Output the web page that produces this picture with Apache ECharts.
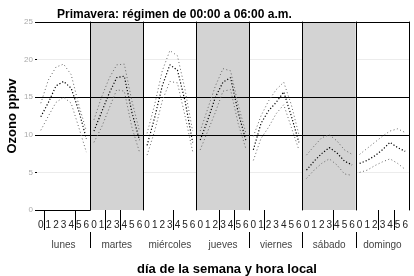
<!DOCTYPE html>
<html>
<head>
<meta charset="utf-8">
<script src="https://cdn.jsdelivr.net/npm/echarts@6/dist/echarts.min.js"></script>
<style>
  html, body { margin: 0; padding: 0; background: #fff; }
  #chart { width: 414px; height: 276px; }
</style>
</head>
<body>
<div id="chart"></div>
<script>
// horas 00..06 y días de la semana
const horas = [0, 1, 2, 3, 4, 5, 6];
const dias = ['lunes', 'martes', 'miércoles', 'jueves', 'viernes', 'sábado', 'domingo'];

// ozono medio (ppbv) por día y hora
const media = [
  [12.4, 14.3, 16.5, 17.1, 16.2, 13.2, 9.5],
  [10.5, 13.0, 15.5, 17.6, 17.8, 13.0, 9.3],
  [8.6, 12.3, 16.5, 19.3, 18.6, 14.5, 9.0],
  [9.3, 12.0, 15.0, 17.0, 17.6, 13.0, 9.3],
  [8.0, 11.5, 13.2, 14.3, 15.7, 12.5, 9.0],
  [5.3, 6.5, 7.5, 8.3, 7.6, 6.5, 6.0],
  [6.2, 6.6, 7.2, 8.0, 9.0, 8.3, 7.8]
];
// límite superior
const superior = [
  [14.2, 17.3, 19.0, 19.4, 18.0, 14.0, 10.5],
  [12.0, 15.0, 17.5, 19.3, 19.4, 14.5, 10.5],
  [10.2, 14.0, 18.5, 21.2, 20.5, 16.0, 10.5],
  [10.5, 13.5, 16.5, 18.8, 18.5, 14.0, 10.3],
  [9.8, 12.5, 14.5, 16.0, 17.0, 14.0, 10.0],
  [7.3, 8.5, 9.6, 10.0, 9.2, 8.0, 7.4],
  [7.4, 8.2, 9.0, 9.8, 10.5, 10.8, 10.3]
];
// límite inferior
const inferior = [
  [10.6, 12.5, 14.3, 15.0, 14.2, 11.0, 7.7],
  [9.0, 11.0, 13.5, 16.0, 15.8, 11.0, 7.7],
  [7.3, 10.5, 14.5, 17.1, 16.9, 12.5, 7.8],
  [8.0, 10.5, 13.0, 15.8, 16.0, 11.5, 8.2],
  [6.6, 9.5, 11.0, 12.8, 14.0, 11.0, 8.0],
  [4.2, 5.3, 6.2, 6.8, 6.0, 4.8, 4.6],
  [5.0, 5.3, 5.9, 6.4, 6.8, 6.2, 5.4]
];

// marcas separadoras bajo las horas (entre etiquetas) y bajo los días
const cortesHora = [[0.5, 4.5], [1.5, 3.5], [3.5], [2.5, 4.5], [1.5], [3.5], [2.5, 4.5]];
const separaDia = [true, false, false, true, true, true, false];

const chart = echarts.init(document.getElementById('chart'));

const panelLeft = 37;
const panelW = 53.14;
const grids = [], xAxes = [], yAxes = [], series = [];

dias.forEach((dia, i) => {
  const gris = i % 2 === 1;
  const tenue = gris ? 'rgba(0,0,0,0)' : '#ececec';
  grids.push({
    left: panelLeft + i * panelW, width: panelW, top: 22, height: 188,
    show: true, backgroundColor: gris ? '#d3d3d3' : '#fff', borderWidth: 0
  });
  // eje de horas
  xAxes.push({
    type: 'value', gridIndex: i, min: -0.5, max: 6.5,
    axisLine: { show: i === 0, onZero: false, lineStyle: { color: '#000', width: 1 } },
    axisTick: { show: true, customValues: cortesHora[i], length: 20, lineStyle: { color: '#000' } },
    axisLabel: { customValues: horas, color: '#222', fontSize: 10, margin: 10, fontFamily: 'Liberation Sans' },
    splitLine: { show: false }
  });
  // eje de días
  xAxes.push({
    type: 'value', gridIndex: i, min: 0, max: 1, position: 'bottom', offset: 22,
    axisLine: { show: false, onZero: false },
    axisTick: { show: separaDia[i], customValues: [1], length: 16, lineStyle: { color: '#000' } },
    axisLabel: { customValues: [0.5], formatter: () => dia, color: '#444', fontSize: 10, margin: 8, fontFamily: 'Liberation Sans' },
    splitLine: { show: false }
  });
  yAxes.push({
    type: 'value', gridIndex: i, min: 0, max: 25, interval: 5, position: 'right',
    axisLine: { show: true, onZero: false, lineStyle: { color: '#000', width: 1 } },
    axisTick: { show: false }, axisLabel: { show: false },
    splitLine: { show: true, lineStyle: { width: 1, color: ['rgba(0,0,0,0)', tenue, '#000', '#000', tenue, '#000'] } }
  });
});

yAxes.push({
  type: 'value', gridIndex: 0, min: 0, max: 25, interval: 5, position: 'left',
  axisLine: { show: false, onZero: false },
  axisTick: { show: true, length: 2, lineStyle: { color: '#000' } },
  axisLabel: { color: '#aaa', fontSize: 8, margin: 4, fontFamily: 'Liberation Sans' },
  splitLine: { show: false },
  name: 'Ozono ppbv', nameLocation: 'middle', nameGap: 18,
  nameTextStyle: { fontWeight: 'bold', fontSize: 13, color: '#000', fontFamily: 'Liberation Sans' }
});

const linea = (datos, i, estilo) => ({
  type: 'line', xAxisIndex: 2 * i, yAxisIndex: i,
  data: horas.map((h, k) => [h, datos[i][k]]),
  symbol: 'none', silent: true, lineStyle: estilo
});

dias.forEach((dia, i) => {
  series.push(linea(superior, i, { color: '#666', width: 1, type: [1, 2.5] }));
  series.push(linea(inferior, i, { color: '#666', width: 1, type: [1, 2.5] }));
  series.push(linea(media, i, { color: '#000', width: 1.2, type: [1.2, 2] }));
});

chart.setOption({
  animation: false,
  title: [
    { text: 'Primavera: régimen de 00:00 a 06:00 a.m.', left: 52, top: 4,
      textStyle: { fontSize: 12, fontWeight: 'bold', color: '#000', fontFamily: 'Liberation Sans' } },
    { text: 'día de la semana y hora local', left: 222, top: 258, textAlign: 'center',
      textStyle: { fontSize: 13, fontWeight: 'bold', color: '#000', fontFamily: 'Liberation Sans' } }
  ],
  grid: grids,
  xAxis: xAxes,
  yAxis: yAxes,
  series: series
});
</script>
</body>
</html>
